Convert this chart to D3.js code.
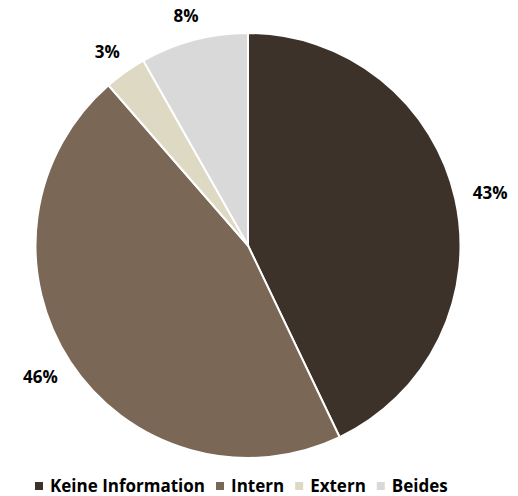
<!DOCTYPE html>
<html><head><meta charset="utf-8">
<script src="https://cdn.jsdelivr.net/npm/d3@7"></script>
<style>
html,body{margin:0;padding:0;background:#fff;}
svg text{font-family:"Open Sans","Lato",sans-serif;font-weight:bold;fill:#000;}
</style></head>
<body>
<svg id="chart" width="518" height="496"></svg>
<script>
const categories = ["Keine Information", "Intern", "Extern", "Beides"];
const values = [42.9, 45.7, 3.2, 8.2];
const labels = ["43%", "46%", "3%", "8%"];
const colors = ["#3c3229", "#7a6755", "#ddd9c3", "#d9d9d9"];

const svg = d3.select("#chart");
const cx = 248, cy = 245.5, r = 212.5, labelR = 231;

const pie = d3.pie().sort(null).value(d => d)(values);
const arc = d3.arc().innerRadius(0).outerRadius(r);

const g = svg.append("g").attr("transform", `translate(${cx},${cy})`);
g.selectAll("path").data(pie).enter().append("path")
  .attr("d", arc)
  .attr("fill", (d, i) => colors[i])
  .attr("stroke", "#fff")
  .attr("stroke-width", 2)
  .attr("stroke-linejoin", "round");

// outside-end labels: anchor point on circle, box shifted outward by its half-size
g.selectAll("text.lbl").data(pie).enter().append("text")
  .attr("class", "lbl")
  .attr("text-anchor", "middle")
  .attr("dominant-baseline", "central")
  .style("font-size", "17px")
  .text((d, i) => labels[i])
  .each(function(d) {
    const a = (d.startAngle + d.endAngle) / 2;
    const s = Math.sin(a), c = -Math.cos(a);
    const bb = this.getBBox();
    const x = labelR * s + bb.width / 2 * s;
    const y = labelR * c + (bb.height * 0.3) * c;
    d3.select(this).attr("transform", `translate(${x},${y})`);
  });

// legend
const leg = svg.append("g").attr("transform", "translate(35,485)");
let x = 0;
categories.forEach((c, i) => {
  leg.append("rect").attr("x", x).attr("y", -3).attr("width", 8).attr("height", 8).attr("fill", colors[i]);
  const t = leg.append("text").attr("x", x + 15).attr("y", 0)
    .attr("dominant-baseline", "central")
    .style("font-size", "17px").text(c);
  x += 15 + t.node().getComputedTextLength() + 11;
});
</script>
</body></html>
